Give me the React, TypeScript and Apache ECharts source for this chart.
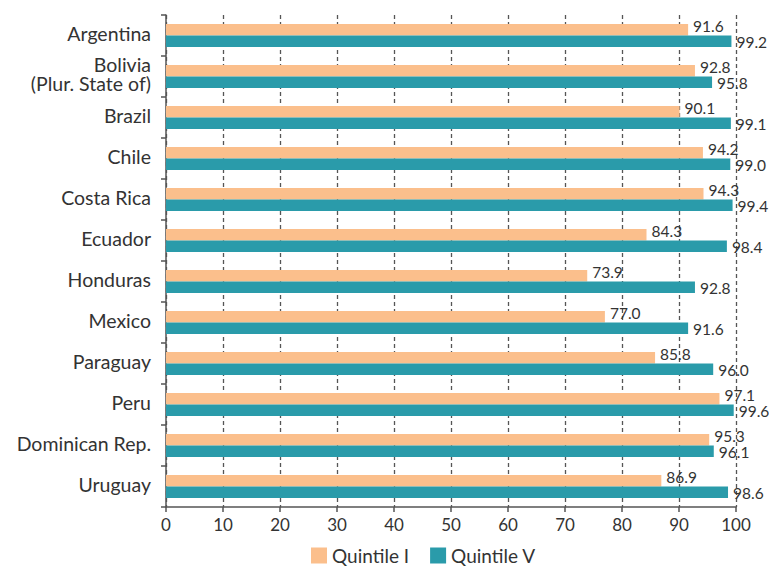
import React, { useEffect, useRef } from "react";
import * as echarts from "echarts";

const countries = [
  "Argentina",
  "Bolivia\n(Plur. State of)",
  "Brazil",
  "Chile",
  "Costa Rica",
  "Ecuador",
  "Honduras",
  "Mexico",
  "Paraguay",
  "Peru",
  "Dominican Rep.",
  "Uruguay",
];

const quintileI = [91.6, 92.8, 90.1, 94.2, 94.3, 84.3, 73.9, 77.0, 85.8, 97.1, 95.3, 86.9];
const quintileV = [99.2, 95.8, 99.1, 99.0, 99.4, 98.4, 92.8, 91.6, 96.0, 99.6, 96.1, 98.6];

const seriesNames = ["Quintile I", "Quintile V"];
const seriesColors = ["#FBBF8C", "#2A9BAA"];

const FONT = "Lato, 'Open Sans', sans-serif";

export default function App() {
  const ref = useRef<HTMLDivElement>(null);

  useEffect(() => {
    if (!ref.current) return;
    const chart = echarts.init(ref.current, undefined, { renderer: "svg" });

    const valueLabel = (dy: number) => ({
      show: true,
      position: "right" as const,
      distance: 5,
      offset: [0, dy],
      color: "#333",
      fontSize: 15.5,
      fontFamily: FONT,
      formatter: (p: any) => Number(p.value).toFixed(1),
    });

    chart.setOption({
      animation: false,
      textStyle: { fontFamily: FONT },
      grid: { left: 166, right: 33, top: 15, bottom: 61, containLabel: false },
      legend: {
        left: 311,
        top: 546,
        padding: 0,
        itemWidth: 16,
        itemHeight: 16,
        itemGap: 21,
        icon: "rect",
        textStyle: { fontSize: 19, color: "#333", fontFamily: FONT },
        data: seriesNames,
      },
      xAxis: {
        type: "value",
        min: 0,
        max: 100,
        interval: 10,
        axisLine: { show: true, lineStyle: { color: "#555", width: 1.5 } },
        axisTick: { show: true, length: 5, lineStyle: { color: "#555", width: 1.5 } },
        axisLabel: { color: "#333", fontSize: 17, margin: 9, fontFamily: FONT },
        splitLine: {
          show: true,
          lineStyle: { color: "#555", width: 1.3, type: [4, 3] },
        },
      },
      yAxis: {
        type: "category",
        inverse: true,
        data: countries,
        axisLine: { show: true, lineStyle: { color: "#555", width: 1.5 } },
        axisTick: { show: true, length: 5, lineStyle: { color: "#555", width: 1.5 } },
        axisLabel: {
          margin: 15,
          formatter: (v: string) =>
            v
              .split("\n")
              .map((line) => `{c|${line}}`)
              .join("\n"),
          rich: {
            c: {
              color: "#333",
              fontSize: 19.5,
              lineHeight: 19.5,
              fontFamily: FONT,
              padding: [0, 0, 5, 0],
            },
          },
        },
        splitLine: { show: false },
      },
      series: [
        {
          name: seriesNames[0],
          type: "bar",
          data: quintileI,
          barWidth: 11.5,
          barGap: "0%",
          itemStyle: { color: seriesColors[0] },
          label: valueLabel(-4),
          z: 3,
        },
        {
          name: seriesNames[1],
          type: "bar",
          data: quintileV,
          barWidth: 11.5,
          barGap: "0%",
          itemStyle: { color: seriesColors[1] },
          label: valueLabel(1),
          z: 3,
        },
      ],
    });

    return () => chart.dispose();
  }, []);

  return (
    <div
      ref={ref}
      style={{ position: "absolute", left: 0, top: 0, width: 769, height: 568 }}
    />
  );
}
